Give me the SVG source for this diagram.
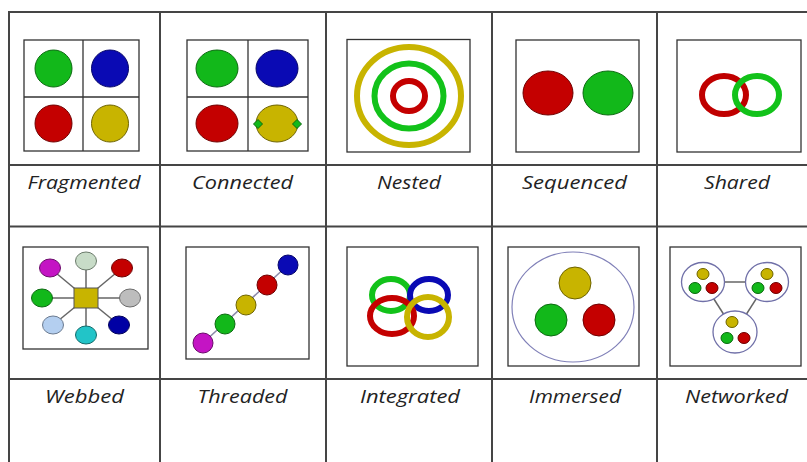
<svg xmlns="http://www.w3.org/2000/svg" width="807" height="462" viewBox="0 0 807 462">
<style>
.grid{stroke:#454545;stroke-width:2;fill:none}
.box{fill:#fff;stroke:#333;stroke-width:1.3}
.lbl{font-family:"Open Sans","DejaVu Sans",sans-serif;font-style:italic;font-size:17.5px;fill:#222;text-anchor:middle}
.g{fill:#12b81a;stroke:#0b6a10;stroke-width:1}
.b{fill:#0a0ab4;stroke:#05056a;stroke-width:1}
.r{fill:#c40000;stroke:#700000;stroke-width:1}
.y{fill:#c8b400;stroke:#6e6400;stroke-width:1}
.rg{fill:none;stroke-width:6}
.ln{stroke:#666;stroke-width:1.5;fill:none}
.cl{fill:#fff;stroke:#7070a8;stroke-width:1.3}
</style>
<rect width="807" height="462" fill="#fff"/>
<g id="grid">
<line class="grid" x1="8" y1="12" x2="807" y2="12"/>
<line class="grid" x1="8" y1="165" x2="807" y2="165"/>
<line class="grid" x1="8" y1="226.5" x2="807" y2="226.5"/>
<line class="grid" x1="8" y1="379" x2="807" y2="379"/>
<line class="grid" x1="9" y1="11" x2="9" y2="462"/>
<line class="grid" x1="160" y1="11" x2="160" y2="462"/>
<line class="grid" x1="326" y1="11" x2="326" y2="462"/>
<line class="grid" x1="492" y1="11" x2="492" y2="462"/>
<line class="grid" x1="657" y1="11" x2="657" y2="462"/>
</g>
<g id="fragmented">
<rect class="box" x="24" y="40" width="115" height="111"/>
<line class="box" x1="83" y1="40" x2="83" y2="151"/>
<line class="box" x1="24" y1="97" x2="139" y2="97"/>
<circle class="g" cx="53.5" cy="68.5" r="18.5"/>
<circle class="b" cx="110" cy="68.5" r="18.5"/>
<circle class="r" cx="53.5" cy="123.5" r="18.5"/>
<circle class="y" cx="110" cy="123.5" r="18.5"/>
<text class="lbl" x="84" y="189" textLength="113" lengthAdjust="spacingAndGlyphs">Fragmented</text>
</g>
<g id="connected">
<rect class="box" x="187" y="40" width="121" height="111"/>
<line class="box" x1="248" y1="40" x2="248" y2="151"/>
<line class="box" x1="187" y1="97" x2="308" y2="97"/>
<ellipse class="g" cx="217" cy="68.5" rx="21" ry="18.5"/>
<ellipse class="b" cx="277" cy="68.5" rx="21" ry="18.5"/>
<ellipse class="r" cx="217" cy="123.5" rx="21" ry="18.5"/>
<ellipse class="y" cx="277" cy="123.5" rx="21" ry="18.5"/>
<path class="g" d="M258,119.5 L262.5,124 L258,128.5 L253.5,124 Z"/>
<path class="g" d="M297,119.5 L301.5,124 L297,128.5 L292.5,124 Z"/>
<text class="lbl" x="242.5" y="189" textLength="101" lengthAdjust="spacingAndGlyphs">Connected</text>
</g>
<g id="nested">
<rect class="box" x="347" y="39.5" width="123" height="112.5"/>
<ellipse class="rg" stroke="#c8b400" cx="409" cy="96" rx="52" ry="49"/>
<ellipse class="rg" stroke="#12c21a" cx="409" cy="96" rx="34.5" ry="32.5"/>
<ellipse class="rg" stroke="#c40000" cx="409" cy="96" rx="16" ry="15" stroke-width="7"/>
<text class="lbl" x="409" y="189" textLength="64" lengthAdjust="spacingAndGlyphs">Nested</text>
</g>
<g id="sequenced">
<rect class="box" x="516" y="40" width="123" height="112"/>
<ellipse class="r" cx="548" cy="93" rx="25" ry="22"/>
<ellipse class="g" cx="608" cy="93" rx="25" ry="22"/>
<text class="lbl" x="574.5" y="189" textLength="105" lengthAdjust="spacingAndGlyphs">Sequenced</text>
</g>
<g id="shared">
<rect class="box" x="677" y="40" width="124" height="112"/>
<ellipse class="rg" stroke="#c00000" cx="724" cy="95" rx="22" ry="19"/>
<ellipse class="rg" stroke="#12c21a" cx="757" cy="95" rx="22" ry="19"/>
<text class="lbl" x="737" y="189" textLength="66" lengthAdjust="spacingAndGlyphs">Shared</text>
</g>
<g id="connectors">
<g class="ln">
<line x1="86" y1="298" x2="86" y2="261"/>
<line x1="86" y1="298" x2="50" y2="268"/>
<line x1="86" y1="298" x2="122" y2="268"/>
<line x1="86" y1="298" x2="42" y2="298"/>
<line x1="86" y1="298" x2="130" y2="298"/>
<line x1="86" y1="298" x2="53" y2="325"/>
<line x1="86" y1="298" x2="86" y2="335"/>
<line x1="86" y1="298" x2="119" y2="325"/>
</g>
<line x1="203" y1="343" x2="288" y2="265" stroke="#8a88a8" stroke-width="1.5"/>
<g class="ln" stroke="#555">
<line x1="703" y1="282" x2="767" y2="282"/>
<line x1="703" y1="282" x2="735" y2="332"/>
<line x1="767" y1="282" x2="735" y2="332"/>
</g>
</g>
<g id="webbed">
<rect class="box" x="23" y="247" width="125" height="102" style="fill:none"/>
<ellipse cx="86" cy="261" rx="10.5" ry="9" fill="#c8dcc8" stroke="#6a7a6a"/>
<ellipse cx="50" cy="268" rx="10.5" ry="9" fill="#c414c4" stroke="#6a0a6a"/>
<ellipse cx="122" cy="268" rx="10.5" ry="9" fill="#c40000" stroke="#700000"/>
<ellipse cx="42" cy="298" rx="10.5" ry="9" fill="#12b81a" stroke="#0b6a10"/>
<ellipse cx="130" cy="298" rx="10.5" ry="9" fill="#bdbdbd" stroke="#6a6a6a"/>
<ellipse cx="53" cy="325" rx="10.5" ry="9" fill="#b4cff0" stroke="#6a7a90"/>
<ellipse cx="86" cy="335" rx="10.5" ry="9" fill="#22c4c8" stroke="#106a6a"/>
<ellipse cx="119" cy="325" rx="10.5" ry="9" fill="#0000a4" stroke="#00005a"/>
<rect x="74" y="288" width="24" height="20" fill="#c8b400" stroke="#555" stroke-width="1"/>
<text class="lbl" x="84.5" y="403" textLength="79" lengthAdjust="spacingAndGlyphs">Webbed</text>
</g>
<g id="threaded">
<rect class="box" x="186" y="247" width="123" height="112" style="fill:none"/>
<circle class="r" cx="267" cy="285" r="10"/>
<circle class="b" cx="288" cy="265" r="10"/>
<circle class="y" cx="246" cy="305" r="10"/>
<circle class="g" cx="225" cy="324" r="10"/>
<circle cx="203" cy="343" r="10" fill="#c414c4" stroke="#6a0a6a"/>
<text class="lbl" x="242.5" y="403" textLength="90" lengthAdjust="spacingAndGlyphs">Threaded</text>
</g>
<g id="integrated">
<rect class="box" x="347" y="247" width="131" height="119"/>
<ellipse class="rg" stroke="#12c21a" cx="391" cy="295" rx="19" ry="16" stroke-width="7"/>
<ellipse class="rg" stroke="#0a0ab4" cx="429" cy="295" rx="19" ry="16" stroke-width="7"/>
<ellipse class="rg" stroke="#c40000" cx="392" cy="316" rx="22" ry="18" stroke-width="7"/>
<ellipse class="rg" stroke="#c8b400" cx="428" cy="317" rx="21" ry="20" stroke-width="7"/>
<text class="lbl" x="410" y="403" textLength="100" lengthAdjust="spacingAndGlyphs">Integrated</text>
</g>
<g id="immersed">
<rect class="box" x="508" y="247" width="131" height="119"/>
<ellipse cx="573" cy="307" rx="61" ry="55" fill="none" stroke="#8080b8" stroke-width="1.2"/>
<circle class="y" cx="575" cy="283" r="16"/>
<circle class="g" cx="551" cy="320" r="16"/>
<circle class="r" cx="599" cy="320" r="16"/>
<text class="lbl" x="575" y="403" textLength="92" lengthAdjust="spacingAndGlyphs">Immersed</text>
</g>
<g id="networked">
<rect class="box" x="670" y="247" width="131" height="119" style="fill:none"/>
<ellipse class="cl" cx="703" cy="282" rx="21.5" ry="19.5"/>
<ellipse class="cl" cx="767" cy="282" rx="21.5" ry="19.5"/>
<ellipse class="cl" cx="735" cy="332" rx="22" ry="21"/>
<ellipse class="y" cx="703" cy="274" rx="6" ry="5.5"/>
<ellipse class="g" cx="695" cy="288" rx="6" ry="5.5"/>
<ellipse class="r" cx="712" cy="288" rx="6" ry="5.5"/>
<ellipse class="y" cx="767" cy="274" rx="6" ry="5.5"/>
<ellipse class="g" cx="758" cy="288" rx="6" ry="5.5"/>
<ellipse class="r" cx="776" cy="288" rx="6" ry="5.5"/>
<ellipse class="y" cx="732" cy="322" rx="6" ry="5.5"/>
<ellipse class="g" cx="727" cy="338" rx="6" ry="5.5"/>
<ellipse class="r" cx="744" cy="338" rx="6" ry="5.5"/>
<text class="lbl" x="736.5" y="403" textLength="103" lengthAdjust="spacingAndGlyphs">Networked</text>
</g>
</svg>
